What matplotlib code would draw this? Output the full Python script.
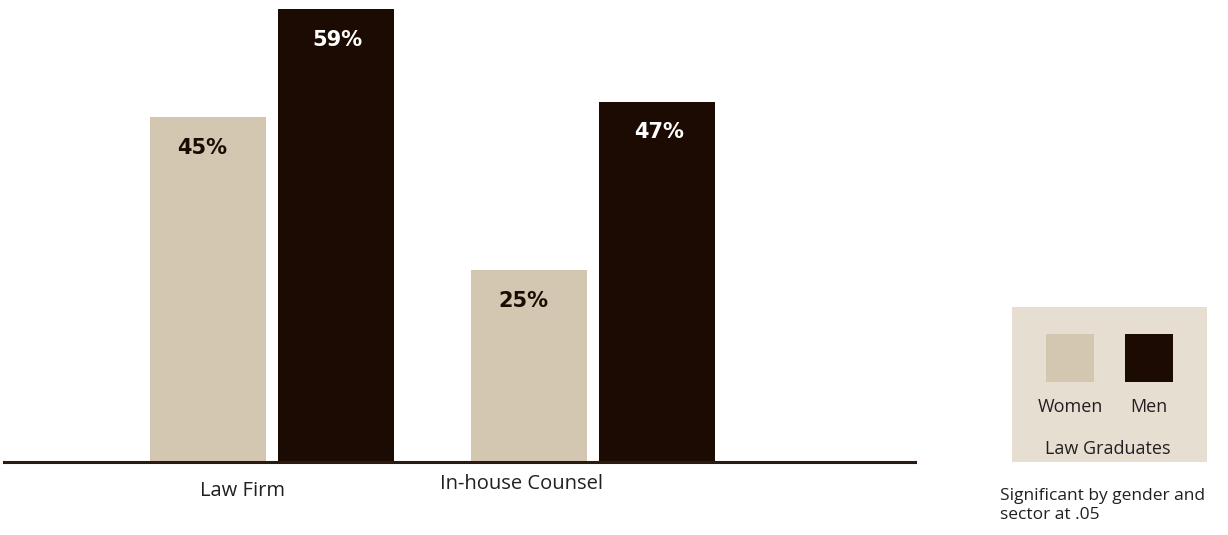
import matplotlib.pyplot as plt
from matplotlib.patches import Rectangle
from matplotlib import font_manager

# --- Data ---
categories = ["Law Firm", "In-house Counsel"]
women = [45, 25]
men = [59, 47]
series_names = ["Women", "Men"]
legend_title = "Law Graduates"
note = "Significant by gender and\nsector at .05"

# --- Colours ---
WOMEN_COLOR = "#d3c7b1"
MEN_COLOR = "#1c0b02"
AXIS_COLOR = "#2a1a10"
LEGEND_BG = "#e6ded1"
TEXT_COLOR = "#231f20"

W, H = 1228, 535
fig = plt.figure(figsize=(W / 100, H / 100), dpi=100)

# pick a narrow bold face for the value labels if one is installed
names = {f.name for f in font_manager.fontManager.ttflist}
narrow = [n for n in ["Liberation Sans Narrow", "DejaVu Sans Condensed"] if n in names]
value_font = narrow + ["DejaVu Sans"]
text_font = ["Open Sans", "DejaVu Sans"]


def fx(px):
    return px / W


def fy(py):
    return 1 - py / H


# plot area: axis line at y=462 px, running from x=4 to x=915 px
left, right, base = 4, 915, 462
px_per_pct = 7.67
ax = fig.add_axes([fx(left), fy(base), fx(right) - fx(left), base / H])
ax.set_ylim(0, base / px_per_pct)

group_px = [272, 593]
unit = group_px[1] - group_px[0]
ax.set_xlim(-(group_px[0] - left) / unit, 1 + (right - group_px[1]) / unit)

bar_w = 116 / unit
off = 64 / unit
x = list(range(len(categories)))

ax.bar([i - off for i in x], women, width=bar_w, color=WOMEN_COLOR, zorder=2)
ax.bar([i + off for i in x], men, width=bar_w, color=MEN_COLOR, zorder=2)

label_drop = 4.0  # value labels sit just below each bar top
vsize = 17 if narrow else 15
for i in x:
    ax.text(i - off - 0.018, women[i] - label_drop, f"{women[i]}%", ha="center", va="center",
            fontsize=vsize, fontweight="bold", color=MEN_COLOR, family=value_font)
    ax.text(i + off + 0.005, men[i] - label_drop, f"{men[i]}%", ha="center", va="center",
            fontsize=vsize, fontweight="bold", color="white", family=value_font)

for s in ["top", "right", "left"]:
    ax.spines[s].set_visible(False)
ax.spines["bottom"].set_linewidth(2.2)
ax.spines["bottom"].set_color(AXIS_COLOR)
ax.set_xticks([])
ax.set_yticks([])
ax.patch.set_alpha(0)

# category labels below the axis line
fig.text(fx(242), fy(491), categories[0], ha="center", va="center", fontsize=14.5,
         color=TEXT_COLOR, family=text_font)
fig.text(fx(521), fy(484), categories[1], ha="center", va="center", fontsize=14.5,
         color=TEXT_COLOR, family=text_font)

# legend panel
fig.patches.append(Rectangle((fx(1012), fy(462)), fx(1207) - fx(1012), fy(307) - fy(462),
                             transform=fig.transFigure, facecolor=LEGEND_BG, edgecolor="none"))
swatch_x = [1046, 1125]
label_x = [1070, 1149]
for sx, lx, name, col in zip(swatch_x, label_x, series_names, [WOMEN_COLOR, MEN_COLOR]):
    fig.patches.append(Rectangle((fx(sx), fy(382)), fx(sx + 48) - fx(sx), fy(334) - fy(382),
                                 transform=fig.transFigure, facecolor=col, edgecolor="none"))
    fig.text(fx(lx), fy(407), name, ha="center", va="center", fontsize=13,
             color=TEXT_COLOR, family=text_font)
fig.text(fx(1108), fy(449), legend_title, ha="center", va="center", fontsize=13,
         color=TEXT_COLOR, family=text_font)

fig.text(fx(1000), fy(488), note, ha="left", va="top", fontsize=12.5,
         color=TEXT_COLOR, family=text_font, linespacing=1.25)

fig.savefig("out.png", dpi=100, facecolor="white")
